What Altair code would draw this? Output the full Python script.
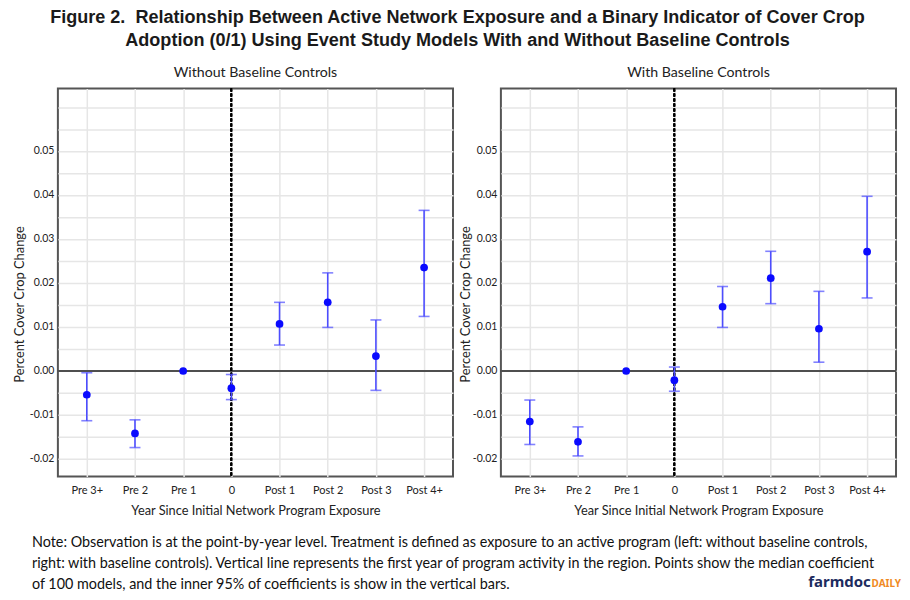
import altair as alt
import pandas as pd

# ---------------- data ----------------
categories = ["Pre 3+", "Pre 2", "Pre 1", "0", "Post 1", "Post 2", "Post 3", "Post 4+"]

left_est = [-0.0054, -0.0142, 0.0, -0.0039, 0.0107, 0.0156, 0.0034, 0.0235]
left_lo = [-0.0113, -0.0174, None, -0.0065, 0.0059, 0.0099, -0.0044, 0.0124]
left_hi = [-0.0004, -0.0111, None, -0.0008, 0.0156, 0.0223, 0.0116, 0.0365]

right_est = [-0.0115, -0.0161, 0.0, -0.0021, 0.0146, 0.0211, 0.0096, 0.0271]
right_lo = [-0.0167, -0.0193, None, -0.0046, 0.0099, 0.0153, 0.0020, 0.0166]
right_hi = [-0.0066, -0.0127, None, 0.0009, 0.0192, 0.0272, 0.0181, 0.0397]

y_grid_values = [-0.02, -0.015, -0.01, -0.005, 0.0, 0.005, 0.01, 0.015, 0.02,
                 0.025, 0.03, 0.035, 0.04, 0.045, 0.05, 0.055, 0.06]
y_domain = [-0.024, 0.0642]

title_lines = [
    "Figure 2.\u00a0 Relationship Between Active Network Exposure and a Binary Indicator of Cover Crop",
    "Adoption (0/1) Using Event Study Models With and Without Baseline Controls",
]
panel_titles = ["Without Baseline Controls", "With Baseline Controls"]
x_title = "Year Since Initial Network Program Exposure"
y_title = "Percent Cover Crop Change"
note_lines = [
    "Note: Observation is at the point-by-year level. Treatment is defined as exposure to an active program (left: without baseline controls,",
    "right: with baseline controls). Vertical line represents the first year of program activity in the region. Points show the median coefficient",
    "of 100 models, and the inner 95% of coefficients is show in the vertical bars.",
]

# ---------------- style ----------------
FONT = "Lato"
NOTE_FONT = "Lato"
TITLE_FONT = "Liberation Sans"
TXT = "#222222"
GRID = "#e6e6e6"
POINT = "#0a0aff"
BAR = "#4d4dff"

label_expr = ("datum.value > 0.055 || round(datum.value*1000) % 10 != 0 ? '' : "
              "replace(format(datum.value, '.2f'), '\u2212', '-')")


def panel(title, est, lo, hi, title_x, with_notes=False):
    df = pd.DataFrame({"cat": categories, "est": est, "lo": lo, "hi": hi})
    xs = alt.Scale(type="point", domain=categories, padding=0.6)
    ys = alt.Scale(domain=y_domain, nice=False, zero=False)
    x_axis = alt.Axis(
        title=x_title, labelAngle=0, domain=False, ticks=False, tickSize=0,
        grid=True, gridColor=GRID, gridWidth=1.5,
        labelFont=FONT, labelFontSize=11, labelColor=TXT, labelPadding=8,
        titleFont=FONT, titleFontSize=12.8, titleFontWeight="normal",
        titleColor=TXT, titlePadding=9,
    )
    y_axis = alt.Axis(
        title=y_title, values=y_grid_values, labelExpr=label_expr,
        domain=False, ticks=False, tickSize=0,
        grid=True, gridColor=GRID, gridWidth=1.5,
        labelFont=FONT, labelFontSize=10.5, labelColor=TXT, labelPadding=4,
        titleFont=FONT, titleFontSize=12.9, titleFontWeight="normal",
        titleColor=TXT, titleX=title_x, titleY=216, titleBaseline="middle",
        titleAngle=270,
    )
    base = alt.Chart(df)
    X = alt.X("cat:N", scale=xs, axis=x_axis)

    zero_line = base.mark_rule(color="#4f4f4f", strokeWidth=1.4).encode(
        y=alt.datum(0, scale=ys, axis=y_axis)
    )
    event_line = base.mark_rule(color="#000000", strokeWidth=1.5, strokeDash=[3, 2]).encode(
        x=alt.datum("0", scale=xs, axis=x_axis)
    )
    bars = base.transform_filter("datum.lo != null").mark_rule(
        color=BAR, strokeWidth=1.6
    ).encode(x=X, y=alt.Y("lo:Q", scale=ys, axis=y_axis), y2="hi:Q")
    cap_lo = base.transform_filter("datum.lo != null").mark_tick(
        color=BAR, thickness=1.6, size=11, orient="horizontal"
    ).encode(x=X, y=alt.Y("lo:Q", scale=ys, axis=y_axis))
    cap_hi = base.transform_filter("datum.hi != null").mark_tick(
        color=BAR, thickness=1.6, size=11, orient="horizontal"
    ).encode(x=X, y=alt.Y("hi:Q", scale=ys, axis=y_axis))
    points = base.mark_circle(color=POINT, size=60, opacity=1).encode(
        x=X, y=alt.Y("est:Q", scale=ys, axis=y_axis)
    )
    layers = [zero_line, event_line, bars, cap_lo, cap_hi, points]

    if with_notes:
        note_y = [455.5, 476.8, 498]
        for line, yy in zip(note_lines, note_y):
            layers.append(
                alt.Chart(pd.DataFrame({"t": [line]})).mark_text(
                    align="left", baseline="middle", font=NOTE_FONT,
                    fontSize=14.4, color="#111111"
                ).encode(x=alt.value(-26), y=alt.value(yy), text="t:N")
            )
        layers.append(
            alt.Chart(pd.DataFrame({"t": ["farmdoc"]})).mark_text(
                align="left", baseline="alphabetic", font="Noto Sans",
                fontSize=15, fontWeight="bold", color="#1c2b5e"
            ).encode(x=alt.value(752), y=alt.value(499.5), text="t:N")
        )
        layers.append(
            alt.Chart(pd.DataFrame({"t": ["DAILY"]})).mark_text(
                align="left", baseline="alphabetic", font="Noto Sans",
                fontSize=10, fontWeight="bold", color="#f08a24"
            ).encode(x=alt.value(815.5), y=alt.value(499.5), text="t:N")
        )

    return alt.layer(*layers).properties(
        width=396, height=389,
        title=alt.Title(title, font=FONT, fontSize=14.2, fontWeight="normal",
                        color=TXT, anchor="middle", frame="group", offset=8),
    )


left = panel(panel_titles[0], left_est, left_lo, left_hi, -38, with_notes=True)
right = panel(panel_titles[1], right_est, right_lo, right_hi, -35)

chart = alt.hconcat(left, right, spacing=48, bounds="flush").properties(
    title=alt.Title(title_lines, font=TITLE_FONT, fontSize=18.1, fontWeight="bold",
                    color="#1a1a1a", lineHeight=22.3, anchor="middle", offset=15),
    padding={"left": 5, "top": 0, "right": 0, "bottom": 0},
    background="white",
).configure_view(stroke="#555555", strokeWidth=2)

chart.save("out.html", embed_options={"renderer": "svg", "actions": False})
